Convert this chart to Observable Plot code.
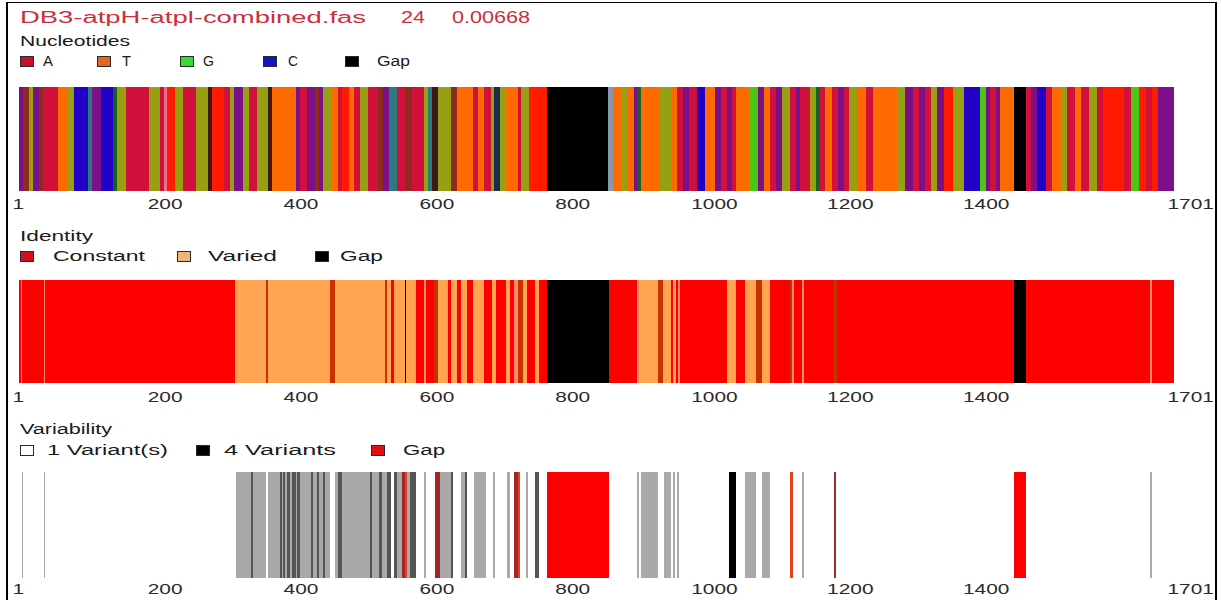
<!DOCTYPE html>
<html>
<head>
<meta charset="utf-8">
<script src="https://cdn.jsdelivr.net/npm/d3@7"></script>
<script src="https://cdn.jsdelivr.net/npm/@observablehq/plot@0.6"></script>
<style>
  body { margin: 0; background: #fff; font-family: "Liberation Sans", Arial, sans-serif; }
  #wrap { position: relative; width: 1221px; height: 600px; overflow: hidden; background: #fff; }
  .t { position: absolute; white-space: nowrap; line-height: 1; transform-origin: 0 50%; }
  .sw { position: absolute; box-sizing: border-box; border: 1px solid #2a2a2a; }
  .frame { position: absolute; left: 6px; top: 2px; width: 1211px; height: 700px; box-sizing: border-box;
           border-left: 2.5px solid #000; border-top: 1.5px solid #000; border-right: 2px solid #000; }
  svg.panel { position: absolute; left: 0; }
</style>
</head>
<body>
<div id="wrap"><div class="frame"></div></div>
<script>
// ---------------- DATA ----------------
const titleParts = ["DB3-atpH-atpl-combined.fas", "24", "0.00668"];
const sectionNames = ["Nucleotides", "Identity", "Variability"];
const tickValues = [1, 200, 400, 600, 800, 1000, 1200, 1400, 1701];
const alignmentLength = 1701;

// Nucleotides legend
const nucLegend = ["A", "T", "G", "C", "Gap"];
const nucLegendColors = ["#c8102a", "#e8641e", "#33dd33", "#1414c8", "#000000"];
// Nucleotide stripe categories (as drawn, incl. blended colours)
const nucKeys = ["A", "R", "T", "G", "C", "AC", "TG", "AT", "CG", "pink", "dark", "navy", "dg", "gb", "gap"];
const nucColors = ["#d2103c", "#ff1a00", "#ff6a00", "#4cc814", "#2200c8", "#7c1088", "#96a012", "#8c2c1c",
                   "#2a7a80", "#e8708c", "#401818", "#1c2c50", "#186028", "#8898b0", "#000000"];
// runs: [start position, category] – each run ends where the next starts
const nucleotideRuns = [
  [1,"AC"],[7,"AT"],[16,"TG"],[22,"AC"],[30,"AT"],[36,"A"],[59,"T"],[73,"TG"],[82,"C"],[102,"CG"],
  [108,"AC"],[121,"C"],[139,"dg"],[145,"TG"],[159,"A"],[193,"TG"],[208,"A"],[214,"pink"],[219,"R"],[231,"TG"],
  [242,"A"],[262,"TG"],[279,"dark"],[285,"R"],[302,"A"],[311,"TG"],[317,"AC"],[331,"TG"],[340,"A"],[351,"TG"],
  [368,"dark"],[374,"T"],[408,"AC"],[414,"A"],[425,"AC"],[437,"AT"],[442,"AC"],[448,"TG"],[460,"T"],[471,"A"],
  [477,"R"],[486,"T"],[494,"A"],[503,"TG"],[514,"A"],[529,"AT"],[537,"AC"],[546,"CG"],[557,"A"],[569,"AT"],
  [580,"A"],[597,"TG"],[603,"CG"],[609,"dark"],[617,"TG"],[637,"AT"],[646,"T"],[669,"A"],[677,"T"],[686,"A"],
  [695,"TG"],[700,"navy"],[709,"TG"],[718,"T"],[735,"A"],[740,"TG"],[752,"R"],[778,"gap"],
  [868,"gb"],[876,"T"],[888,"TG"],[897,"T"],[906,"AC"],[911,"dg"],[917,"T"],[943,"TG"],[961,"T"],[970,"A"],
  [978,"AC"],[987,"A"],[999,"C"],[1010,"T"],[1025,"AC"],[1034,"A"],[1043,"AC"],[1051,"A"],[1057,"T"],[1075,"G"],
  [1089,"AC"],[1098,"T"],[1107,"A"],[1115,"AC"],[1124,"TG"],[1136,"A"],[1145,"AC"],[1150,"A"],[1165,"TG"],[1174,"dg"],
  [1180,"A"],[1188,"T"],[1197,"A"],[1206,"AC"],[1215,"A"],[1223,"TG"],[1235,"T"],[1247,"A"],[1258,"T"],[1293,"TG"],
  [1305,"AC"],[1317,"A"],[1325,"AC"],[1334,"A"],[1343,"TG"],[1352,"AC"],[1363,"R"],[1375,"TG"],[1392,"C"],[1416,"G"],
  [1424,"AC"],[1430,"A"],[1439,"AC"],[1445,"T"],[1465,"gap"],[1483,"A"],[1491,"AC"],[1500,"C"],[1512,"A"],[1521,"T"],
  [1535,"TG"],[1544,"A"],[1556,"T"],[1564,"A"],[1576,"TG"],[1588,"A"],[1596,"R"],[1628,"A"],[1637,"G"],[1649,"R"],
  [1660,"A"],[1669,"R"],[1678,"AC"]
];

// Identity
const idLegend = ["Constant", "Varied", "Gap"];
const idLegendColors = ["#d0101c", "#f2b27c", "#000000"];
const idKeys = ["C", "V", "D", "P", "K"];
const idColors = ["#ff0000", "#ffa552", "#c83200", "#ff8a6a", "#000000"];
const identityRuns = [
  [1,"C"],[4,"P"],[6,"C"],[38,"P"],[40,"C"],[319,"V"],[365,"D"],[368,"V"],[459,"D"],[466,"V"],
  [540,"D"],[543,"V"],[549,"C"],[553,"V"],[569,"K"],[571,"V"],[586,"C"],[597,"P"],[600,"C"],[612,"D"],
  [617,"V"],[632,"C"],[637,"V"],[646,"C"],[652,"V"],[660,"C"],[669,"V"],[686,"C"],[697,"V"],[703,"C"],
  [718,"V"],[723,"C"],[729,"P"],[735,"D"],[743,"V"],[749,"C"],[760,"V"],[766,"C"],[778,"K"],[869,"C"],
  [911,"P"],[914,"V"],[942,"D"],[949,"V"],[960,"C"],[964,"V"],[968,"C"],[971,"P"],[974,"C"],[1043,"V"],
  [1057,"C"],[1069,"V"],[1086,"D"],[1095,"V"],[1107,"C"],[1136,"D"],[1139,"P"],[1142,"C"],[1153,"P"],[1156,"C"],
  [1200,"D"],[1205,"C"],[1465,"K"],[1483,"C"],[1666,"P"],[1669,"C"]
];

// Variability
const varLegend = ["1 Variant(s)", "4 Variants", "Gap"];
const varLegendColors = ["#ffffff", "#000000", "#e01010"];
const varKeys = ["W", "G", "S", "K", "R", "B", "O"];
const varColors = ["#ffffff", "#a9a9a9", "#555555", "#000000", "#ff0000", "#a02828", "#e8401c"];
const variabilityRuns = [
  [1,"W"],[5,"G"],[7,"W"],[38,"G"],[40,"W"],[321,"G"],[342,"S"],[345,"G"],[364,"W"],[368,"G"],
  [385,"S"],[388,"G"],[390,"S"],[393,"G"],[395,"S"],[400,"G"],[403,"S"],[408,"G"],[410,"S"],[414,"G"],
  [431,"S"],[434,"G"],[440,"S"],[443,"G"],[448,"S"],[451,"G"],[459,"W"],[466,"G"],[471,"S"],[476,"G"],
  [517,"S"],[520,"G"],[531,"S"],[536,"G"],[543,"S"],[549,"W"],[553,"S"],[557,"G"],[564,"B"],[569,"O"],
  [572,"G"],[577,"S"],[585,"W"],[597,"G"],[600,"W"],[613,"B"],[621,"G"],[637,"S"],[640,"W"],[652,"G"],
  [657,"S"],[661,"W"],[670,"G"],[688,"W"],[699,"G"],[702,"W"],[720,"G"],[723,"W"],[730,"B"],[735,"O"],
  [738,"W"],[747,"G"],[750,"W"],[760,"S"],[766,"W"],[778,"R"],[869,"W"],[910,"G"],[913,"W"],[917,"G"],
  [942,"W"],[950,"G"],[960,"W"],[964,"G"],[966,"W"],[970,"G"],[972,"W"],[1046,"K"],[1056,"W"],[1069,"G"],
  [1086,"W"],[1094,"G"],[1106,"W"],[1136,"O"],[1140,"W"],[1153,"G"],[1156,"W"],[1200,"B"],[1204,"W"],[1465,"R"],
  [1483,"W"],[1665,"G"],[1668,"W"]
];

// ---------------- LAYOUT ----------------
const W = 1221;
const FONT = "'Liberation Sans', Arial, sans-serif";
const wrap = document.getElementById("wrap");

function text(str, x1, x2, cy, size, color) {
  const d = document.createElement("div");
  d.className = "t";
  d.textContent = str;
  d.style.left = x1 + "px";
  d.style.top = (cy - size / 2) + "px";
  d.style.fontSize = size + "px";
  d.style.color = color;
  wrap.appendChild(d);
  const w = d.getBoundingClientRect().width;
  d.style.transform = `scaleX(${(x2 - x1) / w})`;
}
function swatch(x, cy, color) {
  const s = document.createElement("div");
  s.className = "sw";
  s.style.left = x + "px";
  s.style.top = (cy - 5) + "px";
  s.style.width = "14px";
  s.style.height = "11px";
  s.style.background = color;
  wrap.appendChild(s);
}

// Title
const titleColor = "#c8303c";
const titleLayout = [[20, 366], [401, 425], [452, 530]];
titleParts.forEach((p, i) => text(p, titleLayout[i][0], titleLayout[i][1], 18, 16, titleColor));

// Sections: label + legend + stripe panel
const sections = [
  {name: sectionNames[0], nameX: [20, 130], nameY: 41, legY: 61,
   legend: nucLegend, legColors: nucLegendColors,
   sw: [20, 97, 180, 263, 345], lab: [[43, 53], [122, 131], [203, 214], [288, 298], [377, 410]],
   runs: nucleotideRuns, keys: nucKeys, colors: nucColors, top: 87, barH: 104, labY: 204},
  {name: sectionNames[1], nameX: [20, 93], nameY: 236, legY: 256,
   legend: idLegend, legColors: idLegendColors,
   sw: [20, 177, 315], lab: [[53, 145], [208, 277], [340, 383]],
   runs: identityRuns, keys: idKeys, colors: idColors, top: 280, barH: 103, labY: 397},
  {name: sectionNames[2], nameX: [20, 112], nameY: 429, legY: 450,
   legend: varLegend, legColors: varLegendColors,
   sw: [20, 196, 371], lab: [[47, 168], [224, 336], [403, 445]],
   runs: variabilityRuns, keys: varKeys, colors: varColors, top: 472, barH: 106, labY: 589}
];

const TICK_STRETCH = 1.39;

sections.forEach(sec => {
  text(sec.name, sec.nameX[0], sec.nameX[1], sec.nameY, 14, "#1a1a1a");
  sec.legend.forEach((name, i) => {
    swatch(sec.sw[i], sec.legY, sec.legColors[i]);
    text(name, sec.lab[i][0], sec.lab[i][1], sec.legY, 14, "#1a1a1a");
  });

  const segs = sec.runs.map(([s, k], i) => ({
    start: s,
    end: i < sec.runs.length - 1 ? sec.runs[i + 1][0] : alignmentLength,
    key: k
  }));
  const mb = 30;
  const svg = Plot.plot({
    width: W,
    height: sec.barH + mb,
    marginLeft: 19,
    marginRight: 47,
    marginTop: 0,
    marginBottom: mb,
    x: {domain: [1, alignmentLength], axis: null},
    y: {domain: [0, 1], axis: null},
    color: {domain: sec.keys, range: sec.colors},
    style: {background: "transparent", overflow: "visible", fontFamily: FONT},
    marks: [
      Plot.rect(segs, {x1: "start", x2: "end", y1: 0, y2: 1, fill: "key", shapeRendering: "crispEdges"}),
      Plot.text(tickValues, {
        x: d => d, y: 0, text: d => String(d),
        textAnchor: "start", lineAnchor: "middle",
        dx: -7, dy: sec.labY - (sec.top + sec.barH),
        fontSize: 15, fill: "#2a2a2a"
      })
    ]
  });
  svg.classList.add("panel");
  svg.style.top = sec.top + "px";
  // stretch tick label glyphs horizontally, as in the reference
  svg.querySelectorAll("text").forEach(t => {
    const tr = t.getAttribute("transform");
    if (tr) {
      t.setAttribute("transform", `${tr} scale(${TICK_STRETCH},1)`);
    } else {
      const x = parseFloat(t.getAttribute("x")) || 0;
      t.removeAttribute("x");
      t.setAttribute("transform", `translate(${x},0) scale(${TICK_STRETCH},1)`);
    }
  });
  wrap.appendChild(svg);
});
</script>
</body>
</html>
